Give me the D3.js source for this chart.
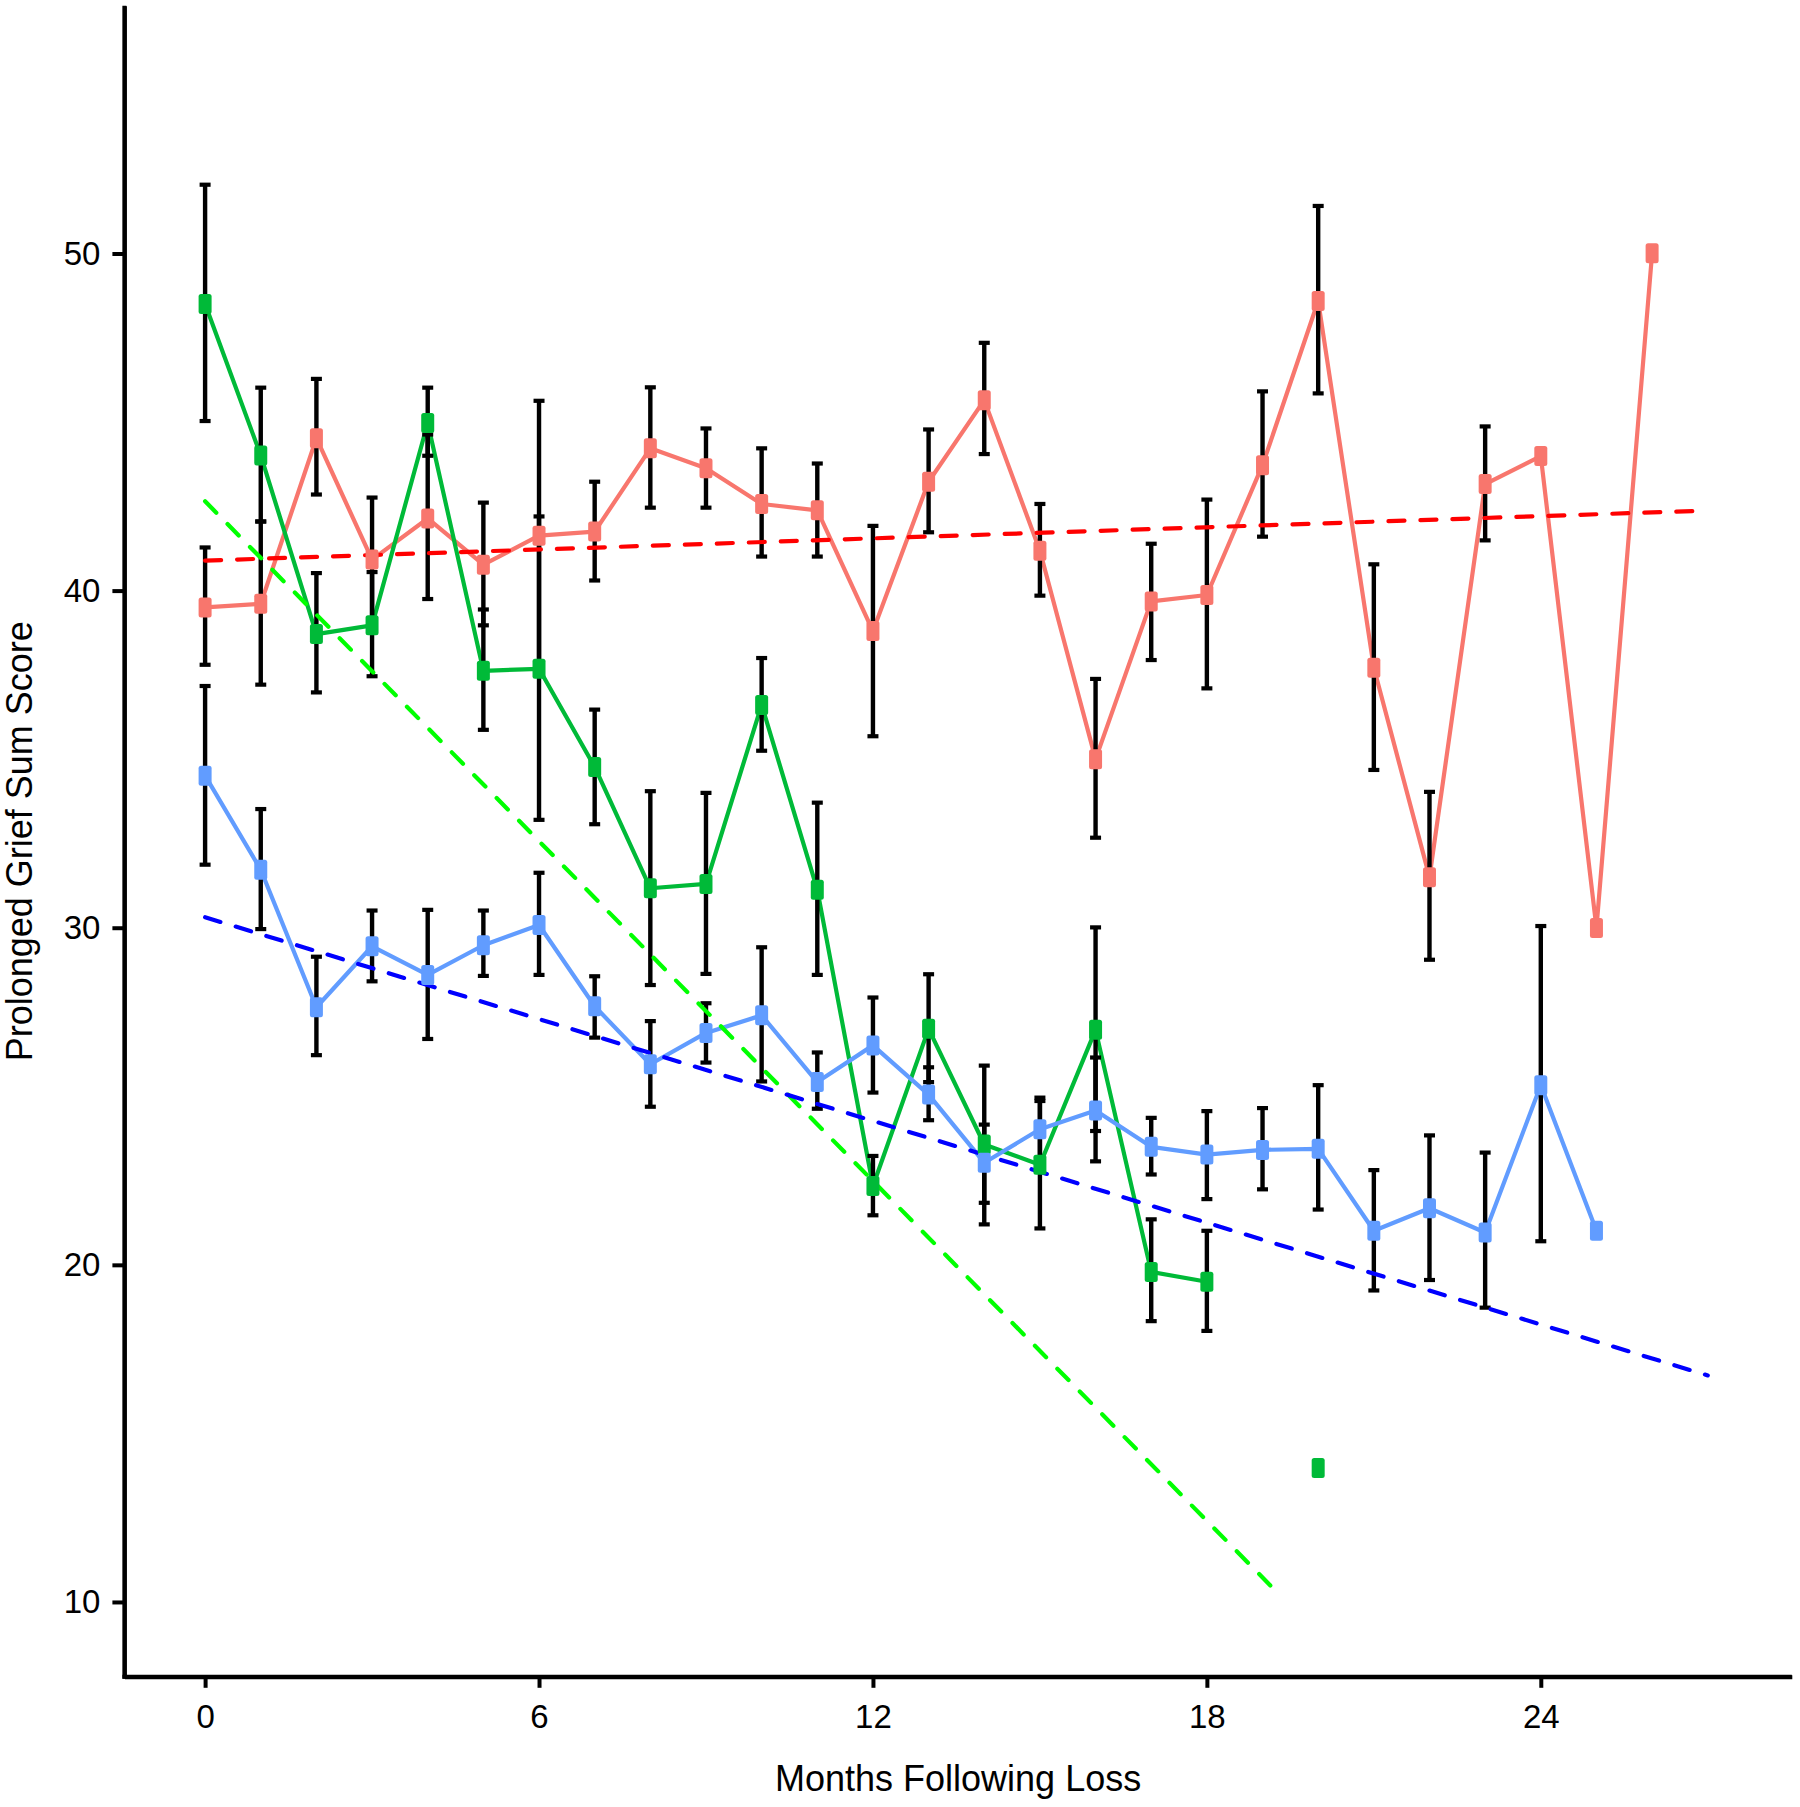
<!DOCTYPE html>
<html>
<head>
<meta charset="utf-8">
<script src="https://cdn.jsdelivr.net/npm/d3@7"></script>
<style>
  html, body { margin: 0; padding: 0; background: #fff; }
  svg { display: block; }
  text { font-family: "Liberation Sans", Arial, Helvetica, sans-serif; fill: #000; }
</style>
</head>
<body>
<div id="chart"></div>
<script>
// ---------------- data ----------------
const xTicks = [0, 6, 12, 18, 24];
const yTicks = [10, 20, 30, 40, 50];
const xTitle = "Months Following Loss";
const yTitle = "Prolonged Grief Sum Score";

// Group 1 (salmon)
const redMonths = [0,1,2,3,4,5,6,7,8,9,10,11,12,13,14,15,16,17,18,19,20,21,22,23,24,25,26];
const redMean   = [39.5,39.61,44.52,40.92,42.14,40.77,41.63,41.75,44.22,43.63,42.57,42.38,38.8,43.23,45.65,41.18,35.0,39.68,39.87,43.72,48.59,37.71,31.5,43.16,43.99,29.99,50.01];
const redLow    = [37.8,37.21,42.85,39.08,39.75,38.97,37.63,40.3,42.46,42.46,41.01,41.01,35.68,41.73,44.05,39.85,32.67,37.94,37.1,41.6,45.85,34.68,29.05,41.49,null,null,null];
const redHigh   = [41.28,42.05,46.28,42.76,44.63,42.61,45.63,43.23,46.03,44.81,44.22,43.77,41.92,44.78,47.35,42.57,37.38,41.39,42.7,45.91,51.41,40.78,34.03,44.87,null,null,null];

// Group 2 (green) - month 19 missing
const greenMonths = [0,1,2,3,4,5,6,7,8,9,10,11,12,13,14,15,16,17,18,19,20];
const greenMean   = [48.5,44.01,38.71,38.97,44.97,37.62,37.68,34.77,31.17,31.3,36.61,31.13,22.34,27.0,23.57,22.97,26.97,19.79,19.5,null,13.97];
const greenLow    = [45.03,42.05,36.98,37.46,44.0,35.87,33.2,33.07,28.3,28.63,35.25,28.6,21.47,25.42,21.2,21.08,23.97,18.33,18.04,null,null];
const greenHigh   = [52.04,46.02,40.52,40.55,46.02,39.44,42.2,36.47,34.05,34.0,38.0,33.71,23.23,28.62,25.91,24.86,30.01,21.35,21.01,null,null];

// Group 3 (blue)
const blueMonths = [0,1,2,3,4,5,6,7,8,9,10,11,12,13,14,15,16,17,18,19,20,21,22,23,24,25];
const blueMean   = [34.51,31.72,27.64,29.45,28.6,29.48,30.08,27.67,25.95,26.88,27.4,25.42,26.51,25.05,23.03,24.02,24.58,23.5,23.27,23.41,23.44,21.01,21.68,20.96,25.33,21.01];
const blueLow    = [31.87,29.96,26.22,28.41,26.7,28.57,28.6,26.74,24.69,26.0,25.44,24.63,25.11,24.29,21.84,23.08,23.07,22.68,21.95,22.24,21.64,19.24,19.55,18.73,20.7,null];
const blueHigh   = [37.17,33.52,29.14,30.51,30.53,30.51,31.63,28.56,27.23,27.76,29.42,26.3,27.93,25.86,24.16,24.96,26.15,24.36,24.56,24.65,25.33,22.81,23.84,23.33,30.05,null];

// Linear trend lines (end points)
const redTrendX = [0, 26.74],   redTrendY = [40.89, 42.36];
const greenTrendX = [0, 19.14], greenTrendY = [42.65, 10.49];
const blueTrendX = [0, 27.0],   blueTrendY = [30.31, 16.72];

// ---------------- build ----------------
function build(months, mean, low, high) {
  return months.map((m, i) => ({ x: m, y: mean[i], lo: low[i], hi: high[i] }));
}
const groups = [
  { color: "#F8766D", data: build(redMonths, redMean, redLow, redHigh) },
  { color: "#00BA38", data: build(greenMonths, greenMean, greenLow, greenHigh) },
  { color: "#619CFF", data: build(blueMonths, blueMean, blueLow, blueHigh) }
];
const trends = [
  { color: "#FF0000", pts: redTrendX.map((x, i) => ({ x, y: redTrendY[i] })) },
  { color: "#00FF00", pts: greenTrendX.map((x, i) => ({ x, y: greenTrendY[i] })) },
  { color: "#0000FF", pts: blueTrendX.map((x, i) => ({ x, y: blueTrendY[i] })) }
];

const W = 1800, H = 1807;
const svg = d3.select("#chart").append("svg").attr("width", W).attr("height", H);

const x = d3.scaleLinear().domain([-1.45, 28.51]).range([124.4, 1791.8]);
const y = d3.scaleLinear().domain([7.78, 57.35]).range([1676.8, 5.7]);

const line = d3.line()
  .defined(d => d.y != null)
  .x(d => x(d.x)).y(d => y(d.y));

// series lines
svg.append("g").selectAll("path").data(groups).join("path")
  .attr("d", g => line(g.data))
  .attr("fill", "none")
  .attr("stroke", g => g.color)
  .attr("stroke-width", 4.2)
  .attr("stroke-linejoin", "round")
  .attr("stroke-linecap", "round");

// error bars
const eb = svg.append("g");
groups.forEach(g => {
  const d = g.data.filter(p => p.lo != null && p.hi != null);
  eb.selectAll(null).data(d).join("line")
    .attr("x1", p => x(p.x)).attr("x2", p => x(p.x))
    .attr("y1", p => y(p.lo)).attr("y2", p => y(p.hi))
    .attr("stroke", "#000").attr("stroke-width", 4.4);
  ["lo", "hi"].forEach(k => {
    eb.selectAll(null).data(d).join("line")
      .attr("x1", p => x(p.x) - 5.5).attr("x2", p => x(p.x) + 5.5)
      .attr("y1", p => y(p[k])).attr("y2", p => y(p[k]))
      .attr("stroke", "#000").attr("stroke-width", 4.2);
  });
});

// trend lines
svg.append("g").selectAll("path").data(trends).join("path")
  .attr("d", t => line(t.pts))
  .attr("fill", "none")
  .attr("stroke", t => t.color)
  .attr("stroke-width", 4.2)
  .attr("stroke-dasharray", "16,16")
  .attr("stroke-linecap", "round");

// points
const pw = 13, ph = 20;
groups.forEach(g => {
  svg.append("g").selectAll("rect").data(g.data.filter(p => p.y != null)).join("rect")
    .attr("x", p => x(p.x) - pw / 2)
    .attr("y", p => y(p.y) - ph / 2)
    .attr("width", pw).attr("height", ph)
    .attr("rx", 2.5)
    .attr("fill", g.color);
});

// axes
const xAxis = svg.append("g").attr("transform", `translate(0,${y.range()[0]})`)
  .call(d3.axisBottom(x).tickValues(xTicks).tickSize(11).tickSizeOuter(0).tickPadding(17));
const yAxis = svg.append("g").attr("transform", `translate(${x.range()[0]},0)`)
  .call(d3.axisLeft(y).tickValues(yTicks).tickSize(12).tickSizeOuter(0).tickPadding(12));
[xAxis, yAxis].forEach(a => {
  a.select(".domain").attr("stroke", "#000").attr("stroke-width", 4);
  a.selectAll(".tick line").attr("stroke", "#000").attr("stroke-width", 4);
  a.selectAll(".tick text").attr("font-size", 33).attr("fill", "#000")
    .style("font-family", '"Liberation Sans", Arial, Helvetica, sans-serif');
});
// extend axis lines to meet at the corner
svg.append("line")
  .attr("x1", x.range()[0] - 2).attr("x2", x.range()[1])
  .attr("y1", y.range()[0]).attr("y2", y.range()[0])
  .attr("stroke", "#000").attr("stroke-width", 4);
svg.append("line")
  .attr("x1", x.range()[0]).attr("x2", x.range()[0])
  .attr("y1", y.range()[1]).attr("y2", y.range()[0] + 2)
  .attr("stroke", "#000").attr("stroke-width", 4);

// titles
svg.append("text")
  .attr("x", (x.range()[0] + x.range()[1]) / 2)
  .attr("y", 1791)
  .attr("text-anchor", "middle")
  .attr("font-size", 36)
  .text(xTitle);
svg.append("text")
  .attr("transform", `translate(32,${(y.range()[0] + y.range()[1]) / 2}) rotate(-90)`)
  .attr("text-anchor", "middle")
  .attr("font-size", 36)
  .text(yTitle);
</script>
</body>
</html>
